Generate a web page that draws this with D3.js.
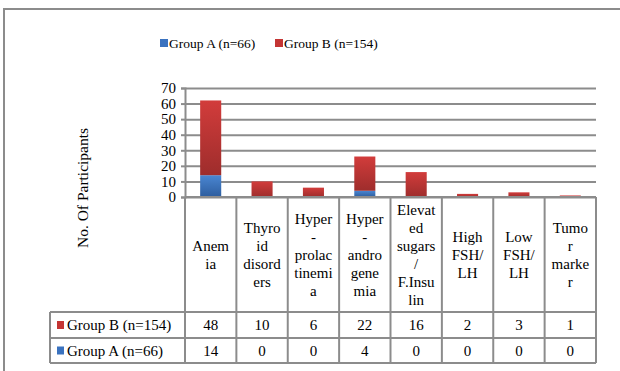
<!DOCTYPE html>
<html>
<head>
<meta charset="utf-8">
<script src="https://cdn.jsdelivr.net/npm/d3@7"></script>
<style>
  html, body { margin: 0; padding: 0; background: #fff; }
  svg { display: block; font-family: "Liberation Serif", "Times New Roman", serif; }
</style>
</head>
<body>
<svg id="chart" width="620" height="371"></svg>
<script>
// Conditions observed in each study group
const categories = ["Anemia", "Thyroid disorders", "Hyper-prolactinemia", "Hyper-androgenemia",
  "Elevated sugars/F.Insulin", "High FSH/LH", "Low FSH/LH", "Tumor marker"];
// Wrapped label lines shown in the data-table header cells
const categoryLines = [
  ["Anem", "ia"],
  ["Thyro", "id", "disord", "ers"],
  ["Hyper", "-", "prolac", "tinemi", "a"],
  ["Hyper", "-", "andro", "gene", "mia"],
  ["Elevat", "ed", "sugars", "/", "F.Insu", "lin"],
  ["High", "FSH/", "LH"],
  ["Low", "FSH/", "LH"],
  ["Tumo", "r", "marke", "r"]
];
const groupA = [14, 0, 0, 4, 0, 0, 0, 0];
const groupB = [48, 10, 6, 22, 16, 2, 3, 1];
const seriesNames = ["Group A (n=66)", "Group B (n=154)"];
const yTicks = [0, 10, 20, 30, 40, 50, 60, 70];
const yTitle = "No. Of Participants";

const svg = d3.select("#chart");
const lineCol = "#8c8c8c";

// Gradients for the bar fills
const defs = svg.append("defs");
function grad(id, top, bottom) {
  const g = defs.append("linearGradient").attr("id", id)
    .attr("x1", 0).attr("y1", 0).attr("x2", 0).attr("y2", 1);
  g.append("stop").attr("offset", "0%").attr("stop-color", top);
  g.append("stop").attr("offset", "100%").attr("stop-color", bottom);
}
grad("gA", "#4a86d2", "#2d5d9e");
grad("gB", "#d23c3b", "#9e2d2c");
const fills = ["url(#gA)", "url(#gB)"];
const swatch = ["#3a72bf", "#c43534"];

// Outer frame (open on the right and bottom)
svg.append("path")
  .attr("d", "M4,371 L4,9 L620,9")
  .attr("fill", "none").attr("stroke", lineCol).attr("stroke-width", 2);

// Scales
const plotLeft = 185, plotRight = 596, plotTop = 88, plotBottom = 197;
const x = d3.scaleBand().domain(categories).range([plotLeft, plotRight]).padding(0);
const y = d3.scaleLinear().domain([0, 70]).range([plotBottom, plotTop]);

// Gridlines
const grid = svg.append("g").attr("transform", `translate(${plotLeft},0)`)
  .call(d3.axisLeft(y).tickValues(yTicks).tickSize(-(plotRight - plotLeft)).tickFormat(""));
grid.select(".domain").remove();
grid.selectAll(".tick line").attr("stroke", lineCol).attr("stroke-width", 2);

// Y axis with tick marks and labels
const yAxis = svg.append("g").attr("transform", `translate(${plotLeft},0)`)
  .call(d3.axisLeft(y).tickValues(yTicks).tickSize(4).tickPadding(5));
yAxis.select(".domain").attr("stroke", lineCol).attr("stroke-width", 2);
yAxis.selectAll(".tick line").attr("stroke", lineCol).attr("stroke-width", 2);
yAxis.selectAll(".tick text").attr("fill", "#000").attr("font-size", 15)
  .attr("font-family", "Liberation Serif, serif");

// Stacked bars
const rows = categories.map((c, i) => ({ cat: c, A: groupA[i], B: groupB[i] }));
const stack = d3.stack().keys(["A", "B"])(rows);
const barW = x.bandwidth() * 0.41;
svg.append("g").selectAll("g").data(stack).join("g")
  .attr("fill", (d, i) => fills[i])
  .selectAll("rect").data(d => d).join("rect")
  .attr("x", d => x(d.data.cat) + (x.bandwidth() - barW) / 2)
  .attr("y", d => y(d[1]))
  .attr("width", barW)
  .attr("height", d => y(d[0]) - y(d[1]));

// Y axis title
svg.append("text")
  .attr("transform", "translate(88,188) rotate(-90)")
  .attr("text-anchor", "middle").attr("font-size", 15.5).text(yTitle);

// Top legend
const legend = svg.append("g").attr("font-size", 13.5);
const legendItems = [{ x: 160, name: seriesNames[0], c: swatch[0] }, { x: 275, name: seriesNames[1], c: swatch[1] }];
legendItems.forEach(d => {
  legend.append("rect").attr("x", d.x).attr("y", 39).attr("width", 8).attr("height", 8).attr("fill", d.c);
  legend.append("text").attr("x", d.x + 9).attr("y", 48).text(d.name);
});

// Data table under the plot
const tableLeft = 50, headBottom = 312, rowB = 338, rowA = 363;
const table = svg.append("g");
const tl = (x1, y1, x2, y2) => table.append("line")
  .attr("x1", x1).attr("y1", y1).attr("x2", x2).attr("y2", y2)
  .attr("stroke", lineCol).attr("stroke-width", 2);
tl(plotLeft, plotBottom, plotRight, plotBottom);
[headBottom, rowB, rowA].forEach(yy => tl(tableLeft, yy, plotRight, yy));
tl(tableLeft, headBottom, tableLeft, rowA);
categories.forEach(c => tl(x(c), plotBottom, x(c), rowA));
tl(plotRight, plotBottom, plotRight, rowA);

// Header cells: wrapped category names
const lh = 18;
categories.forEach((c, i) => {
  const lines = categoryLines[i];
  const cx = x(c) + x.bandwidth() / 2;
  const mid = (plotBottom + headBottom) / 2;
  const t = table.append("text").attr("text-anchor", "middle").attr("font-size", 15);
  lines.forEach((ln, k) => {
    t.append("tspan").attr("x", cx)
      .attr("y", mid + (k - (lines.length - 1) / 2) * lh + 5).text(ln);
  });
});

// Value rows: Group B above Group A
const valueRows = [
  { name: seriesNames[1], vals: groupB, c: swatch[1], top: headBottom, bottom: rowB },
  { name: seriesNames[0], vals: groupA, c: swatch[0], top: rowB, bottom: rowA }
];
valueRows.forEach(r => {
  const mid = (r.top + r.bottom) / 2;
  table.append("rect").attr("x", 57).attr("y", mid - 4).attr("width", 7).attr("height", 8).attr("fill", r.c);
  table.append("text").attr("x", 67).attr("y", mid + 5).attr("font-size", 15).text(r.name);
  r.vals.forEach((v, i) => {
    table.append("text").attr("x", x(categories[i]) + x.bandwidth() / 2).attr("y", mid + 5)
      .attr("text-anchor", "middle").attr("font-size", 15).text(v);
  });
});
</script>
</body>
</html>
